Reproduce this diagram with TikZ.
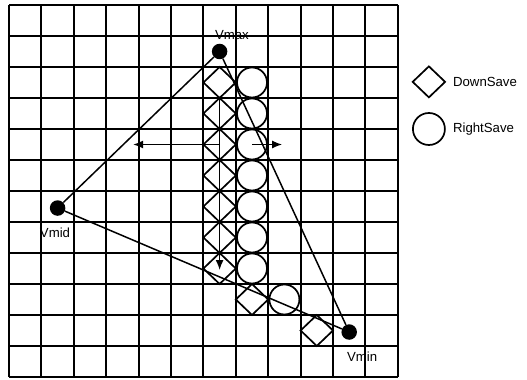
\documentclass[tikz,border=0pt]{standalone}
\usepackage{fontspec}
\setmainfont{Liberation Sans}
\usetikzlibrary{arrows.meta,calc,positioning}

\begin{document}
\begin{tikzpicture}[x=32.4pt,y=-31pt,>={Latex[length=10pt,width=8pt]},
  gridline/.style={line width=1.9pt},
  savebox/.style={line width=1.7pt},
  edge/.style={line width=1.5pt},
  vtx/.style={circle,fill=black,inner sep=0pt,minimum size=15.5pt},
  lbl/.style={inner sep=0pt,font=\fontsize{13.2}{15}\selectfont}]
  \useasboundingbox (-0.278,-0.161) rectangle (15.988,12.097);
  \foreach \i in {0,...,12} {
    \draw[gridline] (\i,0)--(\i,12);
    \draw[gridline] (0,\i)--(12,\i);
  }
  \foreach \c/\r in {6/2,6/3,6/4,6/5,6/6,6/7,6/8,7/9,9/10}
    \draw[savebox] (\c+0.5,\r)--(\c+1,\r+0.5)--(\c+0.5,\r+1)--(\c,\r+0.5)--cycle;
  \foreach \c/\r in {7/2,7/3,7/4,7/5,7/6,7/7,7/8,8/9}
    \draw[savebox] (\c+0.5,\r+0.5) circle[radius=15pt];
  \coordinate (lstart) at (6.5,4.5);
  \coordinate (lend) at (3.83,4.5);
  \coordinate (rstart) at (7.5,4.5);
  \coordinate (rend) at (8.43,4.5);
  \coordinate (dstart) at (6.5,3);
  \coordinate (dend) at (6.5,8.55);
  \draw[edge,->] (lstart)--(lend);
  \draw[edge,->] (rstart)--(rend);
  \draw[edge,->] (dstart)--(dend);
  \node[vtx] (vmax) at (6.5,1.5) {};
  \node[vtx] (vmid) at (1.5,6.55) {};
  \node[vtx] (vmin) at (10.5,10.55) {};
  \draw[edge] (vmax)--(vmid)--(vmin)--(vmax);
  \node[lbl] at (6.88,0.97) {Vmax};
  \node[lbl] at (1.42,7.35) {Vmid};
  \node[lbl] at (10.9,11.35) {Vmin};
  \coordinate (legd) at (12.96,2.48);
  \coordinate (legc) at (12.96,4.0);
  \draw[savebox] ($(legd)+(0,-0.5)$)--($(legd)+(0.5,0)$)--($(legd)+(0,0.5)$)--($(legd)+(-0.5,0)$)--cycle;
  \draw[savebox] (legc) circle[radius=16pt];
  \node[lbl,right=24pt of legd] {DownSave};
  \node[lbl,right=24pt of legc] {RightSave};
\end{tikzpicture}
\end{document}
